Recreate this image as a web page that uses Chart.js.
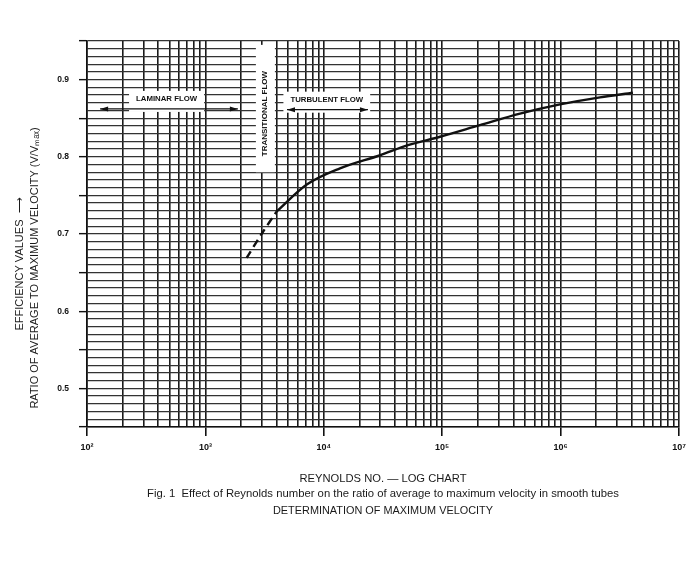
<!DOCTYPE html>
<html>
<head>
<meta charset="utf-8">
<script src="https://cdn.jsdelivr.net/npm/chart.js@4.4.1/dist/chart.umd.min.js"></script>
<style>
  html, body { margin: 0; padding: 0; background: #fff; }
  #wrap { width: 700px; height: 573px; position: relative; }
</style>
</head>
<body>
<div id="wrap"><canvas id="reChart"></canvas></div>
<script>
// values
const transitionRe = [2230, 2980, 3990];
const transitionRatio = [0.669, 0.700, 0.729];
const turbulentRe = [3990, 7180, 13700, 29900, 51400, 95800, 208000, 454000, 989000, 2150000, 4080000];
const turbulentRatio = [0.729, 0.764, 0.785, 0.802, 0.815, 0.826, 0.841, 0.856, 0.868, 0.877, 0.883];

const xDecades = [100, 1000, 10000, 100000, 1000000, 10000000];
const xTickLabels = ['10²', '10³', '10⁴', '10⁵', '10⁶', '10⁷'];
const yTickValues = [0.5, 0.6, 0.7, 0.8, 0.9];
const yTickLabels = ['0.5', '0.6', '0.7', '0.8', '0.9'];

const FONT = '"Liberation Sans", Arial, sans-serif';

// flow region notes (data units)
const notes = {
  laminar: { text: 'LAMINAR FLOW', from: 129, to: 1880, arrowY: 0.862, textY: 0.875, mid: 470 },
  turbulent: { text: 'TURBULENT FLOW', from: 4890, to: 23600, arrowY: 0.861, textY: 0.874, mid: 10600 },
  transitional: { text: 'TRANSITIONAL FLOW', x: 3180, top: 0.945, bottom: 0.78, mid: 0.856 }
};

function arrowHead(c, x, y, dir) {
  c.beginPath();
  c.moveTo(x, y);
  c.lineTo(x - dir * 8, y - 2.5);
  c.lineTo(x - dir * 8, y + 2.5);
  c.closePath();
  c.fill();
}

const notesPlugin = {
  id: 'notes',
  afterDatasetsDraw(chart) {
    const c = chart.ctx;
    const xs = chart.scales.x, ys = chart.scales.y;
    c.save();
    c.font = 'bold 7.8px ' + FONT;
    c.textAlign = 'center';
    c.textBaseline = 'middle';
    [notes.laminar, notes.turbulent].forEach(n => {
      const x1 = xs.getPixelForValue(n.from), x2 = xs.getPixelForValue(n.to);
      const ay = ys.getPixelForValue(n.arrowY), ty = ys.getPixelForValue(n.textY);
      const cx = xs.getPixelForValue(n.mid);
      const w = c.measureText(n.text).width + 14;
      c.fillStyle = '#fff';
      c.fillRect(cx - w / 2, ty - 8, w, ay - ty + 11);
      c.strokeStyle = '#111';
      c.lineWidth = 1.2;
      c.beginPath();
      c.moveTo(x1, ay);
      c.lineTo(x2, ay);
      c.stroke();
      c.fillStyle = '#111';
      arrowHead(c, x1, ay, -1);
      arrowHead(c, x2, ay, 1);
      c.fillText(n.text, cx, ty);
    });
    const t = notes.transitional;
    const tx = xs.getPixelForValue(t.x);
    const top = ys.getPixelForValue(t.top), bot = ys.getPixelForValue(t.bottom);
    c.fillStyle = '#fff';
    c.fillRect(tx - 9, top, 19, bot - top);
    c.fillStyle = '#111';
    c.translate(tx, ys.getPixelForValue(t.mid));
    c.rotate(-Math.PI / 2);
    c.font = 'bold 8px ' + FONT;
    c.fillText(t.text, 0, 0);
    c.restore();
  },
  afterDraw(chart) {
    const c = chart.ctx;
    const a = chart.chartArea;
    const cx = (a.left + a.right) / 2;
    c.save();
    c.fillStyle = '#1a1a1a';
    c.textAlign = 'center';
    c.textBaseline = 'middle';
    c.font = '11.2px ' + FONT;
    c.fillText('REYNOLDS NO. — LOG CHART', cx, 479);
    c.font = '11.3px ' + FONT;
    c.fillText('Fig. 1  Effect of Reynolds number on the ratio of average to maximum velocity in smooth tubes', cx, 494);
    c.font = '10.9px ' + FONT;
    c.fillText('DETERMINATION OF MAXIMUM VELOCITY', cx, 511);
    // y axis titles
    c.font = '11px ' + FONT;
    c.save();
    c.translate(20, 264);
    c.rotate(-Math.PI / 2);
    c.fillText('EFFICIENCY VALUES  ⟶', 0, 0);
    c.restore();
    c.save();
    c.translate(35, 268);
    c.rotate(-Math.PI / 2);
    c.fillText('RATIO OF AVERAGE TO MAXIMUM VELOCITY (V/Vₘₐₓ)', 0, 0);
    c.restore();
    c.restore();
  }
};

const ctx = document.getElementById('reChart').getContext('2d');

new Chart(ctx, {
  type: 'line',
  data: {
    datasets: [
      {
        label: 'Transitional',
        data: transitionRe.map((r, i) => ({ x: r, y: transitionRatio[i] })),
        borderColor: '#111',
        borderWidth: 2.4,
        borderDash: [8, 5],
        pointRadius: 0,
        tension: 0.3
      },
      {
        label: 'Turbulent',
        data: turbulentRe.map((r, i) => ({ x: r, y: turbulentRatio[i] })),
        borderColor: '#111',
        borderWidth: 2.4,
        pointRadius: 0,
        cubicInterpolationMode: 'monotone'
      }
    ]
  },
  plugins: [notesPlugin],
  options: {
    responsive: true,
    maintainAspectRatio: false,
    animation: false,
    layout: { padding: { top: 41, right: 21, left: 0, bottom: 0 } },
    plugins: {
      legend: { display: false },
      tooltip: { enabled: false }
    },
    scales: {
      x: {
        type: 'logarithmic',
        min: 100,
        max: 10000000,
        afterFit(scale) { scale.height = 146; },
        afterBuildTicks(scale) {
          const t = [];
          for (let d = 0; d < xDecades.length - 1; d++) {
            for (let k = 1; k <= 9; k++) t.push({ value: xDecades[d] * k });
          }
          t.push({ value: xDecades[xDecades.length - 1] });
          scale.ticks = t;
        },
        grid: {
          color: '#1a1a1a',
          lineWidth: 1.6,
          tickLength: 9,
          tickColor: c => (c.tick && xDecades.includes(c.tick.value)) ? '#111' : 'rgba(0,0,0,0)',
          tickWidth: 1.6
        },
        border: { color: '#111', width: 1.6 },
        ticks: {
          autoSkip: false,
          maxRotation: 0,
          padding: 6,
          color: '#111',
          font: { family: FONT, size: 9, weight: 'bold' },
          callback: v => {
            const i = xDecades.indexOf(v);
            return i >= 0 ? xTickLabels[i] : '';
          }
        }
      },
      y: {
        type: 'linear',
        min: 0.45,
        max: 0.95,
        afterFit(scale) { scale.width = 87; },
        afterBuildTicks(scale) {
          const t = [];
          for (let i = 45; i <= 95; i++) t.push({ value: i / 100 });
          scale.ticks = t;
        },
        grid: {
          color: '#333',
          lineWidth: 1.3,
          tickLength: 8,
          tickColor: c => (c.tick && Math.round(c.tick.value * 100) % 5 === 0) ? '#111' : 'rgba(0,0,0,0)',
          tickWidth: 1.4
        },
        border: { color: '#111', width: 1.6 },
        ticks: {
          autoSkip: false,
          padding: 10,
          color: '#111',
          font: { family: FONT, size: 8.5, weight: 'bold' },
          callback: v => {
            const i = yTickValues.findIndex(y => Math.abs(y - v) < 1e-6);
            return i >= 0 ? yTickLabels[i] : '';
          }
        }
      }
    }
  }
});
</script>
</body>
</html>
